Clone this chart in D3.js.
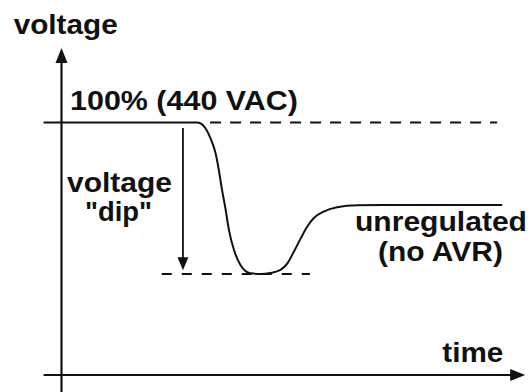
<!DOCTYPE html>
<html>
<head>
<meta charset="utf-8">
<script src="https://cdn.jsdelivr.net/npm/d3@7"></script>
<style>
  html, body { margin: 0; padding: 0; background: #fff; }
  svg { display: block; }
  text { font-family: "Liberation Sans", Arial, Helvetica, sans-serif; font-weight: bold; fill: #111; }
</style>
</head>
<body>
<svg id="chart" width="531" height="392"></svg>
<script>
// Voltage response of an unregulated generator to a load step (percent of 440 VAC)
const timePts = [-3.9, 29.5, 30.2, 31.3, 32.4, 33.5, 34.2, 34.9, 35.7, 36.4, 37.5, 38.9, 41.1,
                 43.3, 45.4, 47.6, 49.1, 50.5, 52.0, 53.4, 54.8, 57.0, 59.9, 64.3, 70.1, 95.8];
const voltPts = [100, 100, 99.7, 97.7, 93.7, 87.8, 81.2, 73.3, 65.3, 57.4, 49.5, 43.6, 40.3,
                 40, 40.4, 41.6, 44.2, 48.8, 54.1, 58.7, 62.1, 64.7, 66.4, 67.2, 67.3, 67.3];

// Reference levels: nominal and dip minimum, with the spans of their dashed guides
const nominalLevel = 100;
const dipLevel = 40;
const nominalSpan = [32.3, 94.7];
const dipSpan = [21.8, 54.0];
const dipArrowTime = 26.4;
const dipArrowRange = [97.8, 41.5];

// Axis extents (time, voltage)
const xAxisSpan = [-3.9, 100.8];
const yAxisSpan = [-7, 129.5];

// Labels
const labels = [
  { text: "voltage", t: -10.4, v: 135.2, w: 104 },
  { text: "100% (440 VAC)", t: 1.85, v: 105.1, w: 228 },
  { text: "voltage", t: 1.2, v: 72.3, w: 105 },
  { text: "\"dip\"", t: 5.1, v: 60.8, w: 67 },
  { text: "unregulated", t: 63.8, v: 57, w: 172 },
  { text: "(no AVR)", t: 68.8, v: 45.1, w: 125 },
  { text: "time", t: 82.8, v: 5, w: 61 }
];

const svg = d3.select("#chart");

const x = d3.scaleLinear().domain([0, 100]).range([61.5, 521.5]);
const y = d3.scaleLinear().domain([0, 100]).range([375, 122.5]);

const ink = "#111";

// Axes
svg.append("line")
  .attr("x1", x(0)).attr("x2", x(0))
  .attr("y1", y(yAxisSpan[0])).attr("y2", y(yAxisSpan[1]) + 10)
  .attr("stroke", ink).attr("stroke-width", 2.2);
svg.append("path")
  .attr("d", `M${x(0)},${y(yAxisSpan[1])} L${x(0) - 6},${y(yAxisSpan[1]) + 15} L${x(0) + 6},${y(yAxisSpan[1]) + 15} Z`)
  .attr("fill", ink);

svg.append("line")
  .attr("x1", x(xAxisSpan[0])).attr("x2", x(xAxisSpan[1]) - 10)
  .attr("y1", y(0)).attr("y2", y(0))
  .attr("stroke", ink).attr("stroke-width", 2.2);
svg.append("path")
  .attr("d", `M${x(xAxisSpan[1])},${y(0)} L${x(xAxisSpan[1]) - 15},${y(0) - 6} L${x(xAxisSpan[1]) - 15},${y(0) + 6} Z`)
  .attr("fill", ink);

// Dashed guides
svg.append("line")
  .attr("x1", x(nominalSpan[0])).attr("x2", x(nominalSpan[1]))
  .attr("y1", y(nominalLevel)).attr("y2", y(nominalLevel))
  .attr("stroke", ink).attr("stroke-width", 1.8).attr("stroke-dasharray", "11 9");
svg.append("line")
  .attr("x1", x(dipSpan[0])).attr("x2", x(dipSpan[1]))
  .attr("y1", y(dipLevel)).attr("y2", y(dipLevel))
  .attr("stroke", ink).attr("stroke-width", 1.8).attr("stroke-dasharray", "10 10");

// Dip arrow
const ax = x(dipArrowTime);
svg.append("line")
  .attr("x1", ax).attr("x2", ax)
  .attr("y1", y(dipArrowRange[0])).attr("y2", y(dipArrowRange[1]) - 8)
  .attr("stroke", ink).attr("stroke-width", 1.8);
svg.append("path")
  .attr("d", `M${ax},${y(dipArrowRange[1])} L${ax - 5.5},${y(dipArrowRange[1]) - 13} L${ax + 5.5},${y(dipArrowRange[1]) - 13} Z`)
  .attr("fill", ink);

// Voltage curve
const pts = timePts.map((t, i) => [t, voltPts[i]]);
const line = d3.line()
  .x(d => x(d[0]))
  .y(d => y(d[1]))
  .curve(d3.curveMonotoneX);
svg.append("path")
  .datum(pts)
  .attr("d", line)
  .attr("fill", "none")
  .attr("stroke", ink)
  .attr("stroke-width", 2);

// Text labels
svg.selectAll("text.lbl")
  .data(labels)
  .join("text")
  .attr("class", "lbl")
  .attr("x", d => x(d.t))
  .attr("y", d => y(d.v))
  .attr("font-size", 27)
  .attr("textLength", d => d.w)
  .attr("lengthAdjust", "spacingAndGlyphs")
  .text(d => d.text);
</script>
</body>
</html>
